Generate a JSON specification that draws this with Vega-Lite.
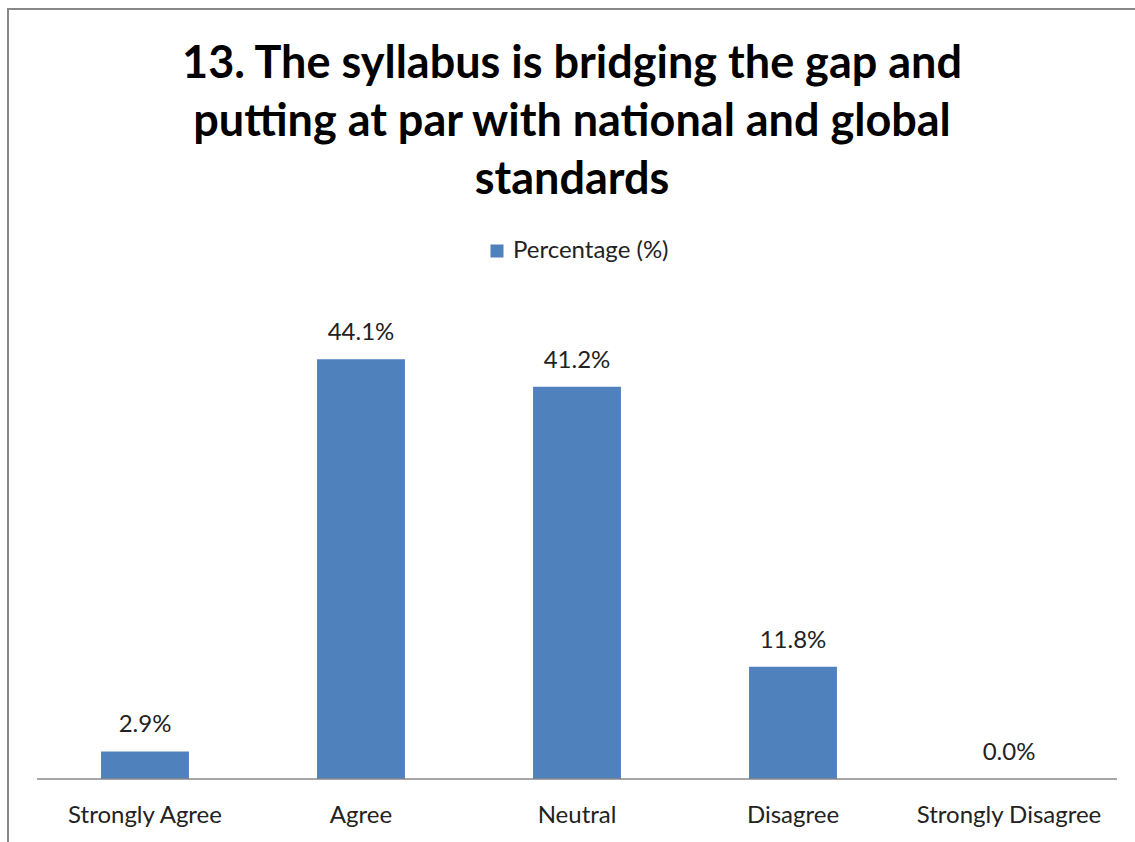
{
  "$schema": "https://vega.github.io/schema/vega-lite/v6.json",
  "autosize": "none",
  "width": 1128,
  "height": 845,
  "padding": {"left": 8, "top": 9, "right": 0, "bottom": 0},
  "background": "white",
  "data": {"values": [
    {"response": "Strongly Agree", "pct": 2.9, "label": "2.9%", "series": "Percentage (%)"},
    {"response": "Agree", "pct": 44.1, "label": "44.1%", "series": "Percentage (%)"},
    {"response": "Neutral", "pct": 41.2, "label": "41.2%", "series": "Percentage (%)"},
    {"response": "Disagree", "pct": 11.8, "label": "11.8%", "series": "Percentage (%)"},
    {"response": "Strongly Disagree", "pct": 0.0, "label": "0.0%", "series": "Percentage (%)"}
  ]},
  "title": {
    "text": ["13. The syllabus is bridging the gap and", "putting at par with national and global", "standards"],
    "font": "Lato",
    "fontSize": 45,
    "fontWeight": "bold",
    "color": "#000000",
    "lineHeight": 58,
    "anchor": "middle",
    "frame": "group",
    "orient": "top",
    "baseline": "alphabetic",
    "offset": -230
  },
  "encoding": {
    "x": {
      "field": "response", "type": "nominal", "sort": null,
      "scale": {"range": [29, 1109], "paddingInner": 0.593, "paddingOuter": 0.2965},
      "axis": {"title": null, "orient": "bottom", "offset": -75, "labelAngle": 0, "ticks": false,
        "domain": false, "labelFont": "Lato", "labelFontSize": 24,
        "labelColor": "#222222", "labelPadding": 36, "labelBaseline": "middle", "labelLimit": 0}
    },
    "y": {
      "field": "pct", "type": "quantitative",
      "scale": {"domain": [0, 50], "range": [770, 294], "nice": false, "zero": true},
      "axis": null
    }
  },
  "layer": [
    {
      "mark": {"type": "bar", "color": "#4F81BD"},
      "encoding": {
        "color": {"field": "series", "type": "nominal", "scale": {"range": ["#4F81BD"]},
          "legend": {"orient": "none", "legendX": 477, "legendY": 230, "title": null,
            "symbolType": "square", "symbolSize": 169, "symbolStrokeWidth": 0,
            "labelFont": "Lato", "labelFontSize": 24, "labelColor": "#222222", "labelOffset": 4, "labelLimit": 0}}
      }
    },
    {
      "mark": {"type": "text", "baseline": "alphabetic", "dy": -19, "font": "Lato", "fontSize": 24, "color": "#222222"},
      "encoding": {"text": {"field": "label", "type": "nominal"}}
    },
    {
      "data": {"values": [{"start": "Strongly Agree", "end": "Strongly Disagree", "base": 0}]},
      "mark": {"type": "rule", "color": "#888888", "strokeWidth": 1.5},
      "encoding": {
        "x": {"field": "start", "type": "nominal", "bandPosition": -0.7278},
        "x2": {"field": "end", "bandPosition": 1.7278},
        "y": {"field": "base", "type": "quantitative"}
      }
    }
  ],
  "config": {
    "view": {"stroke": "#888888", "strokeWidth": 2}
  }
}
